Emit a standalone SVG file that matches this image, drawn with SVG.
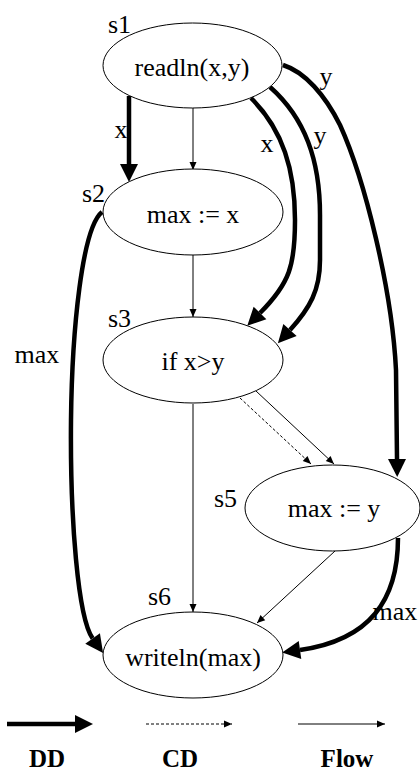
<svg xmlns="http://www.w3.org/2000/svg" width="420" height="773" viewBox="0 0 420 773">
<style>
.node ellipse{fill:#fff;stroke:#000;stroke-width:1}
text{font-family:"Liberation Serif","Times New Roman",serif;font-size:26px;fill:#000}
.ntext{text-anchor:middle}
.leg{font-weight:bold;text-anchor:middle;font-size:25px}
.dd{fill:none;stroke:#000;stroke-width:4.5}
.fl{fill:none;stroke:#000;stroke-width:1}
.cd{fill:none;stroke:#000;stroke-width:1;stroke-dasharray:3,2}
</style>
<defs>
<marker id="ddh" markerUnits="userSpaceOnUse" markerWidth="20" markerHeight="20" refX="0" refY="9" orient="auto" overflow="visible">
<path d="M0,0 L18,9 L0,18 Z" fill="#000"/>
</marker>
<marker id="flh" markerUnits="userSpaceOnUse" markerWidth="10" markerHeight="8" refX="8" refY="3.5" orient="auto" overflow="visible">
<path d="M0,0 L8,3.5 L0,7 Z" fill="#000"/>
</marker>
</defs>

<g id="connectors">
<!-- flow -->
<path class="fl" d="M193,108 L193,170" marker-end="url(#flh)"/>
<path class="fl" d="M193,255 L193,317" marker-end="url(#flh)"/>
<path class="fl" d="M193,404 L193,612" marker-end="url(#flh)"/>
<path class="fl" d="M256,391 L334,464" marker-end="url(#flh)"/>
<path class="fl" d="M335,551 L257,623" marker-end="url(#flh)"/>
<!-- control dependence -->
<path class="cd" d="M240,398 L311,464" marker-end="url(#flh)"/>
<!-- data dependence -->
<path class="dd" d="M129,96 L129,164" marker-end="url(#ddh)"/>
<path class="dd" d="M251,98 C283,130 295,170 295,220 C295,265 290,283 260,313" marker-end="url(#ddh)"/>
<path class="dd" d="M270,87 C305,118 320,160 320,215 L320,260 C320,290 310,308 290,330" marker-end="url(#ddh)"/>
<path class="dd" d="M283,65 C305,72 325,95 340,125 C365,180 392,290 396,370 L397,459" marker-end="url(#ddh)"/>
<path class="dd" d="M102,212 C82,228 72,330 71,420 C70,520 78,618 92.6,638.4" marker-end="url(#ddh)"/>
<path class="dd" d="M398,538 C398,600 370,640 300,650" marker-end="url(#ddh)"/>
<!-- edge labels -->
<text x="121" y="138" class="ntext">x</text>
<text x="267" y="152" class="ntext">x</text>
<text x="320" y="144" class="ntext">y</text>
<text x="326" y="85" class="ntext">y</text>
<text x="37" y="363" class="ntext">max</text>
<text x="395" y="620" class="ntext">max</text>
</g>

<g id="s1" class="node">
<ellipse cx="192.5" cy="65.5" rx="89.5" ry="42.5"/>
<text x="192" y="76" class="ntext">readln(x,y)</text>
<text x="108" y="33">s1</text>
</g>
<g id="s2" class="node">
<ellipse cx="193" cy="212" rx="90" ry="43"/>
<text x="193" y="223" class="ntext">max := x</text>
<text x="82" y="202">s2</text>
</g>
<g id="s3" class="node">
<ellipse cx="193" cy="360" rx="90" ry="43"/>
<text x="193" y="370" class="ntext">if x&gt;y</text>
<text x="108" y="327">s3</text>
</g>
<g id="s5" class="node">
<ellipse cx="332.5" cy="508" rx="87.5" ry="43"/>
<text x="334" y="517" class="ntext">max := y</text>
<text x="214" y="507">s5</text>
</g>
<g id="s6" class="node">
<ellipse cx="193" cy="655" rx="90" ry="43"/>
<text x="193" y="666" class="ntext">writeln(max)</text>
<text x="148" y="605">s6</text>
</g>

<g id="legend">
<path class="dd" d="M7,724 L75,724" marker-end="url(#ddh)"/>
<path class="cd" d="M146,724 L232,724" marker-end="url(#flh)"/>
<path class="fl" d="M298,724 L385,724" marker-end="url(#flh)"/>
<text x="47" y="767" class="leg">DD</text>
<text x="180" y="767" class="leg">CD</text>
<text x="347" y="767" class="leg">Flow</text>
</g>
</svg>
